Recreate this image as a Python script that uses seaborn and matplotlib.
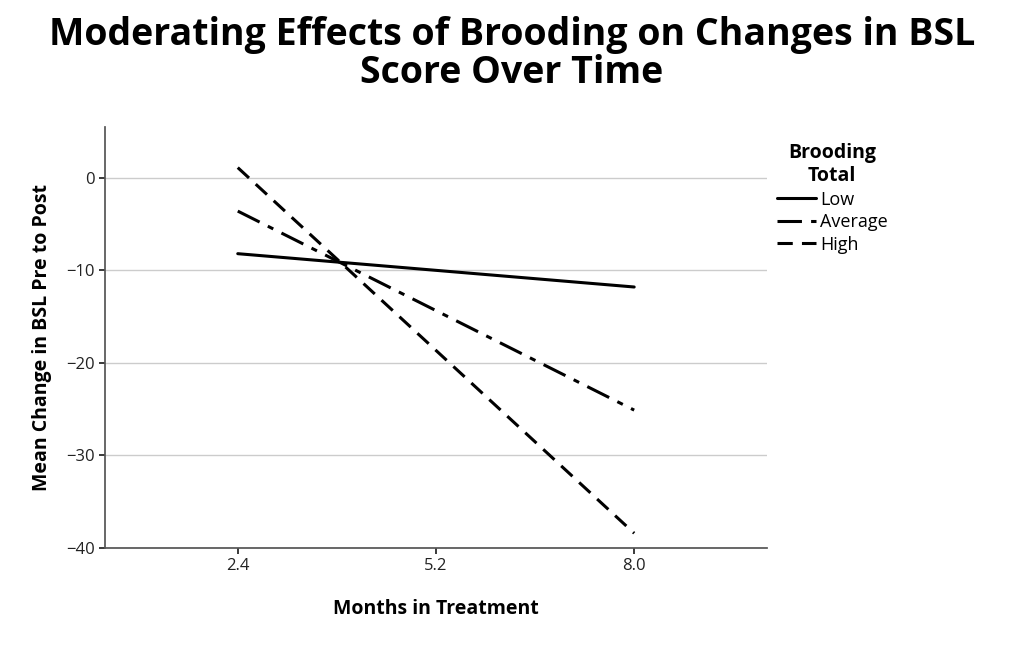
import matplotlib
matplotlib.use("Agg")
import matplotlib.pyplot as plt
import seaborn as sns
import pandas as pd

months = ["2.4", "5.2", "8.0"]
low = [-8.2, -10.0, -11.8]
average = [-3.6, -14.35, -25.1]
high = [1.1, -18.65, -38.4]

rows = []
for name, vals in [("Low", low), ("Average", average), ("High", high)]:
    for m, v in zip(months, vals):
        rows.append({"Months": m, "Change": v, "Brooding": name})
df = pd.DataFrame(rows)

sns.set_theme(style="white")
plt.rcParams['font.family'] = ['Open Sans', 'DejaVu Sans']
plt.rcParams['text.color'] = 'black'
fig = plt.figure(figsize=(10.24, 6.56), dpi=100)
ax = fig.add_axes([0.1025, 0.1646, 0.6465, 0.642])
styles = {"Low": '-', "Average": (0, (8, 3, 2, 3)), "High": (0, (5, 3))}
for name in ["Low", "Average", "High"]:
    sub = df[df.Brooding == name]
    x = [months.index(m) for m in sub.Months]
    sns.lineplot(x=x, y=sub.Change.values, ax=ax, color='black', lw=2.2,
                 linestyle=styles[name], label=name)
ax.set_xlim(-0.67, 2.67)
ax.set_ylim(-40, 5.5)
ax.set_xticks(range(3))
ax.set_xticklabels(months)
ax.set_yticks([0, -10, -20, -30, -40])
ax.set_yticklabels(["0", "−10", "−20", "−30", "−40"])
ax.yaxis.grid(True, color='#cccccc', lw=1)
for s in ["top", "right"]:
    ax.spines[s].set_visible(False)
for s in ["left", "bottom"]:
    ax.spines[s].set_color('#555555')
ax.tick_params(axis='both', labelsize=12, colors='#222222', length=4, left=True, bottom=True)
ax.set_xlabel("Months in Treatment", fontsize=14, fontweight='bold', labelpad=18, color='black')
ax.set_ylabel("Mean Change in BSL Pre to Post", fontsize=14, fontweight='bold', labelpad=10, color='black')
fig.suptitle("Moderating Effects of Brooding on Changes in BSL\nScore Over Time",
             fontsize=27, fontweight='bold', y=0.975, linespacing=1.0, color='black')
leg = ax.legend(title="Brooding\nTotal", loc='upper left', bbox_to_anchor=(0.99, 1.0),
                frameon=False, fontsize=13, handlelength=2.2, handletextpad=0.2,
                labelspacing=0.25)
leg.get_title().set_fontweight('bold')
leg.get_title().set_fontsize(14)
leg.get_title().set_multialignment('center')
fig.savefig("out.png", dpi=100)
